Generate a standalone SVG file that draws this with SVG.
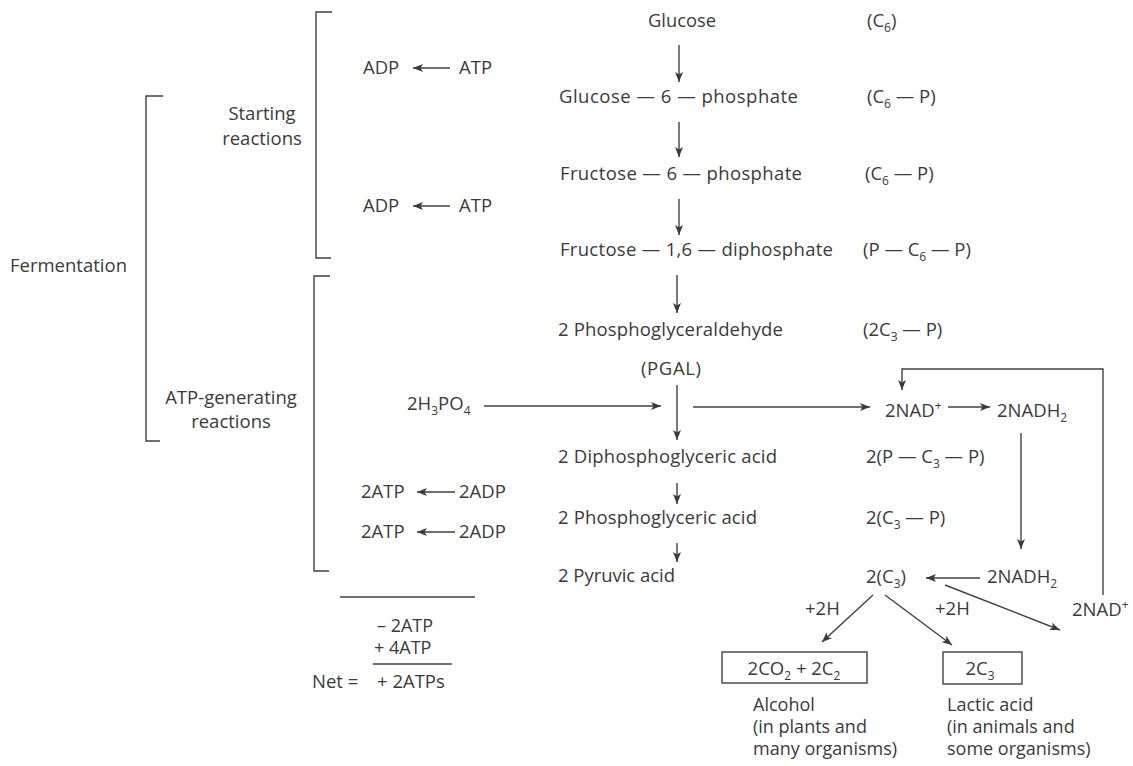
<svg xmlns="http://www.w3.org/2000/svg" width="1133" height="766" viewBox="0 0 1133 766">
  <defs>
    <marker id="ah" viewBox="0 0 10 8" refX="10" refY="4" markerWidth="10" markerHeight="8" markerUnits="userSpaceOnUse" orient="auto">
      <path d="M0,0 L10,4 L0,8 L2.5,4 z" fill="#3a3a3a"/>
    </marker>
    <style>
      text { font-family: "Open Sans", "Liberation Sans", sans-serif; font-size: 18.5px; fill: #3a3a3a; }
      .sub { font-size: 12px; }
      .cap { font-size: 18px; }
      .ln { stroke: #404040; stroke-width: 1.4; fill: none; }
      .arr { stroke: #404040; stroke-width: 1.4; fill: none; marker-end: url(#ah); }
      .box { stroke: #404040; stroke-width: 1.4; fill: none; }
      .mid { text-anchor: middle; }
    </style>
  </defs>
  <rect width="1133" height="766" fill="#ffffff"/>

  <!-- brackets grouping the stages -->
  <g id="brackets">
    <polyline class="ln" points="332,12 316,12 316,258 331,258"/>
    <polyline class="ln" points="330,276 314,276 314,571 329,571"/>
    <polyline class="ln" points="163,96 146,96 146,441 160,441"/>
  </g>

  <g id="label-fermentation"><text x="10" y="272">Fermentation</text></g>
  <g id="label-starting">
    <text class="mid" x="262" y="120">Starting<tspan x="262" dy="25">reactions</tspan></text>
  </g>
  <g id="label-atp-generating">
    <text class="mid" x="231" y="404">ATP-generating<tspan x="231" dy="24">reactions</tspan></text>
  </g>

  <!-- energy inputs and outputs on the left -->
  <g id="atp-1"><text x="363" y="74">ADP</text><text x="459" y="74">ATP</text></g>
  <g id="atp-2"><text x="363" y="212">ADP</text><text x="459" y="212">ATP</text></g>
  <g id="phosphoric"><text x="407" y="410">2H<tspan class="sub" dy="5">3</tspan><tspan dy="-5">PO</tspan><tspan class="sub" dy="5">4</tspan></text></g>
  <g id="atp-3"><text x="361" y="498">2ATP</text><text x="459" y="498">2ADP</text></g>
  <g id="atp-4"><text x="361" y="538">2ATP</text><text x="459" y="538">2ADP</text></g>

  <!-- net ATP balance -->
  <g id="net">
    <line class="ln" x1="340" y1="597" x2="475" y2="597"/>
    <text class="cap" x="377" y="632">– 2ATP<tspan x="374" dy="22">+ 4ATP</tspan></text>
    <line class="ln" x1="373" y1="664" x2="452" y2="664"/>
    <text x="312" y="688">Net =</text>
    <text x="377" y="688">+ 2ATPs</text>
  </g>

  <!-- main pathway -->
  <g id="glucose"><text x="648" y="27" textLength="68" lengthAdjust="spacingAndGlyphs">Glucose</text></g>
  <g id="g6p"><text x="559" y="103" textLength="239" lengthAdjust="spacing">Glucose — 6 — phosphate</text></g>
  <g id="f6p"><text x="560" y="180" textLength="242" lengthAdjust="spacing">Fructose — 6 — phosphate</text></g>
  <g id="f16dp"><text x="560" y="256" textLength="273" lengthAdjust="spacing">Fructose — 1,6 — diphosphate</text></g>
  <g id="pgal"><text x="558" y="336" textLength="225" lengthAdjust="spacing">2 Phosphoglyceraldehyde</text></g>
  <g id="pgal-abbr"><text x="641" y="375" textLength="60" lengthAdjust="spacing">(PGAL)</text></g>
  <g id="dpga"><text x="558" y="463" textLength="219" lengthAdjust="spacing">2 Diphosphoglyceric acid</text></g>
  <g id="pga"><text x="558" y="524" textLength="199" lengthAdjust="spacing">2 Phosphoglyceric acid</text></g>
  <g id="pyruvic"><text x="558" y="582" textLength="117" lengthAdjust="spacing">2 Pyruvic acid</text></g>

  <!-- carbon skeleton formulas -->
  <g id="f-c6"><text x="867" y="27">(C<tspan class="sub" dy="5">6</tspan><tspan dy="-5">)</tspan></text></g>
  <g id="f-c6p-1"><text x="867" y="103">(C<tspan class="sub" dy="5">6</tspan><tspan dy="-5"> — P)</tspan></text></g>
  <g id="f-c6p-2"><text x="865" y="180">(C<tspan class="sub" dy="5">6</tspan><tspan dy="-5"> — P)</tspan></text></g>
  <g id="f-pc6p"><text x="863" y="256">(P — C<tspan class="sub" dy="5">6</tspan><tspan dy="-5"> — P)</tspan></text></g>
  <g id="f-2c3p"><text x="863" y="336">(2C<tspan class="sub" dy="5">3</tspan><tspan dy="-5"> — P)</tspan></text></g>
  <g id="f-2pc3p"><text x="866" y="463">2(P — C<tspan class="sub" dy="5">3</tspan><tspan dy="-5"> — P)</tspan></text></g>
  <g id="f-2c3p-b"><text x="866" y="524">2(C<tspan class="sub" dy="5">3</tspan><tspan dy="-5"> — P)</tspan></text></g>
  <g id="f-2c3"><text x="866" y="583">2(C<tspan class="sub" dy="5">3</tspan><tspan dy="-5">)</tspan></text></g>

  <!-- NAD cycle -->
  <g id="nad-1"><text x="885" y="417">2NAD<tspan class="sub" dy="-7">+</tspan></text></g>
  <g id="nadh2-1"><text x="997" y="417">2NADH<tspan class="sub" dy="5">2</tspan></text></g>
  <g id="nadh2-2"><text x="987" y="583">2NADH<tspan class="sub" dy="5">2</tspan></text></g>
  <g id="nad-2"><text x="1072" y="616">2NAD<tspan class="sub" dy="-7">+</tspan></text></g>
  <g id="h-1"><text x="805" y="615">+2H</text></g>
  <g id="h-2"><text x="935" y="615">+2H</text></g>

  <!-- end products -->
  <g id="alcohol">
    <rect class="box" x="722" y="652" width="145" height="31"/>
    <text class="mid" x="794" y="675">2CO<tspan class="sub" dy="5">2</tspan><tspan dy="-5"> + 2C</tspan><tspan class="sub" dy="5">2</tspan></text>
    <text class="cap" x="753" y="711">Alcohol<tspan x="753" dy="22">(in plants and</tspan><tspan x="753" dy="22">many organisms)</tspan></text>
  </g>
  <g id="lactic">
    <rect class="box" x="943" y="652" width="79" height="32"/>
    <text class="mid" x="980" y="675">2C<tspan class="sub" dy="5">3</tspan></text>
    <text class="cap" x="947" y="711">Lactic acid<tspan x="947" dy="22">(in animals and</tspan><tspan x="947" dy="22">some organisms)</tspan></text>
  </g>

  <!-- connectors -->
  <g id="connectors">
    <line class="arr" x1="450" y1="68" x2="413" y2="68"/>
    <line class="arr" x1="450" y1="206" x2="413" y2="206"/>
    <line class="arr" x1="455" y1="492" x2="417" y2="492"/>
    <line class="arr" x1="455" y1="532" x2="417" y2="532"/>

    <line class="arr" x1="679" y1="45" x2="679" y2="82"/>
    <line class="arr" x1="679" y1="122" x2="679" y2="157"/>
    <line class="arr" x1="679" y1="199" x2="679" y2="235"/>
    <line class="arr" x1="677" y1="275" x2="677" y2="313"/>
    <line class="arr" x1="677" y1="385" x2="677" y2="440"/>
    <line class="arr" x1="677" y1="483" x2="677" y2="504"/>
    <line class="arr" x1="677" y1="543" x2="677" y2="562"/>

    <line class="arr" x1="484" y1="406" x2="661" y2="406"/>
    <line class="arr" x1="693" y1="407" x2="870" y2="407"/>
    <line class="arr" x1="948" y1="407" x2="990" y2="407"/>
    <polyline class="arr" points="1103,595 1103,369 902,369 902,390"/>
    <line class="arr" x1="1021" y1="433" x2="1021" y2="549"/>
    <line class="arr" x1="980" y1="578" x2="926" y2="578"/>
    <line class="arr" x1="873" y1="595" x2="822" y2="642"/>
    <line class="arr" x1="885" y1="595" x2="952" y2="645"/>
    <line class="arr" x1="945" y1="585" x2="1060" y2="630"/>
  </g>
</svg>
